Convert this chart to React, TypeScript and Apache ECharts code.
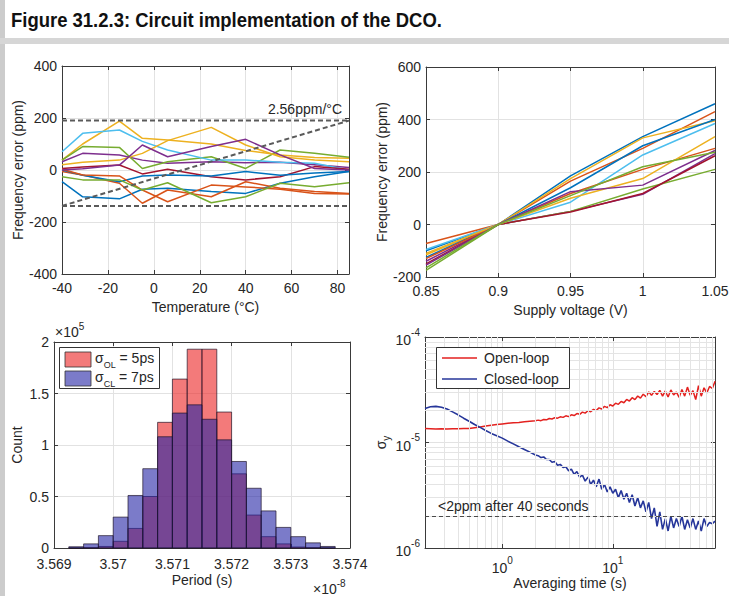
import React, { useEffect, useRef } from 'react';
import * as echarts from 'echarts';

const TITLE = 'Figure 31.2.3: Circuit implementation of the DCO.';

// ---------- Top-left: frequency error vs temperature ----------
const temperatures = [-40, -31, -15, -5, 6, 25, 40, 55, 70, 85];
const tempErrors: number[][] = [
  [-45, -103, -111, -74, -70, -83, -90, -51, -26, -6],
  [-6, -19, -51, -128, -77, -103, -45, -70, -83, -90],
  [38, 100, 188, 122, 115, 100, 75, 58, 48, 45],
  [32, 64, 58, 38, 26, 32, 28, 30, 20, 10],
  [38, 90, 87, 6, 32, 51, 6, 77, 64, 49],
  [70, 141, 154, 110, 77, 38, 38, 30, 26, 0],
  [6, 12, 19, -15, 3, -26, -38, -26, 13, 3],
  [0, -20, -45, -23, -19, -23, -6, -20, -12, -6],
  [3, -19, -23, -77, -122, -58, -65, -74, -90, -92],
  [20, 30, 38, 64, 113, 164, 96, 51, 38, 32],
  [0, 5, 19, 96, 51, 90, 118, 58, 6, 0],
  [-26, -38, -38, -77, -49, -126, -103, -51, -64, -49],
];
const tempBandUpper = 190;
const tempBandLower = -138;
const tempSlopeStart = [-40, -138];
const tempSlopeEnd = [85, 190];
const tempXTicks = { min: -40, max: 85, interval: 20 };

// ---------- Top-right: frequency error vs supply voltage ----------
const voltages = [0.85, 0.9, 0.95, 1.0, 1.05];
const voltErrors: number[][] = [
  [-100, 0, 185, 335, 460],
  [-72, 0, 165, 290, 430],
  [-115, 0, 175, 330, 395],
  [-140, 0, 50, 115, 270],
  [-175, 0, 50, 135, 210],
  [-95, 0, 85, 265, 385],
  [-150, 0, 48, 118, 262],
  [-125, 0, 140, 300, 400],
  [-130, 0, 118, 210, 290],
  [-110, 0, 100, 175, 335],
  [-155, 0, 125, 150, 282],
  [-165, 0, 110, 220, 275],
];

// ---------- Bottom-left: period histogram (x in units of 1e-8 s) ----------
const binEdges = [
  3.56925, 3.5695, 3.56975, 3.57, 3.57025, 3.5705, 3.57075, 3.571, 3.57125, 3.5715,
  3.57175, 3.572, 3.57225, 3.5725, 3.57275, 3.573, 3.57325, 3.5735, 3.57375,
];
const openLoopCounts = [
  0, 300, 1500, 6500, 19000, 50000, 122000, 164000, 193000, 193000,
  132000, 72000, 32000, 11000, 4000, 1000, 300, 0,
];
const closedLoopCounts = [
  1200, 4000, 12000, 30000, 51000, 77000, 108000, 131000, 139000, 125000,
  105000, 84000, 58000, 36000, 20000, 11000, 5000, 1500,
];

// ---------- Bottom-right: Allan deviation (y in units of 1e-6) ----------
const tau = [
  0.2, 0.224, 0.251, 0.282, 0.316, 0.355, 0.398, 0.447, 0.501, 0.562, 0.631, 0.708, 0.794, 0.891,
  1, 1.122, 1.259, 1.413, 1.585, 1.778, 1.995,
  2.113, 2.239, 2.371, 2.512, 2.661, 2.818, 2.985, 3.162, 3.35, 3.548, 3.758, 3.981, 4.217, 4.467,
  4.732, 5.012, 5.309, 5.623, 5.957, 6.31, 6.683, 7.079, 7.499, 7.943, 8.414, 8.913, 9.441,
  10, 10.59, 11.22, 11.89, 12.59, 13.34, 14.13, 14.96, 15.85, 16.79, 17.78, 18.84, 19.95,
  21.13, 22.39, 23.71, 25.12, 26.61, 28.18, 29.85, 31.62, 33.5, 35.48, 37.58, 39.81, 42.17,
  44.67, 47.32, 50.12, 53.09, 56.23, 59.57, 63.1, 66.83, 70.79, 74.99, 79.43, 84.14,
];
const openLoopAdev = [
  13.6, 13.5, 13.4, 13.5, 13.4, 13.5, 13.5, 13.6, 13.6, 13.8, 14.0, 14.3, 14.6, 14.8,
  15.0, 15.2, 15.4, 15.5, 15.7, 15.9, 16.1,
  16.3, 16.1, 16.5, 16.4, 16.9, 16.7, 17.2, 17.0, 17.5, 17.3, 17.9, 17.6, 18.3, 18.0,
  18.8, 18.5, 19.4, 19.0, 20.0, 19.6, 20.6, 20.1, 21.3, 20.8, 22.0, 21.4, 22.8,
  22.2, 23.6, 23.0, 24.5, 23.8, 25.6, 24.7, 26.6, 25.5, 27.6, 26.3, 28.7, 27.2,
  30.2, 28.0, 30.5, 28.5, 31.2, 27.5, 30.8, 27.0, 31.5, 28.3, 30.0, 26.8, 31.8,
  27.5, 33.5, 28.0, 31.0, 25.5, 34.5, 27.5, 33.0, 29.5, 34.0, 32.5, 38.0,
];
const closedLoopAdev = [
  21.0, 21.8, 22.0, 21.6, 20.8, 19.5, 18.3, 17.0, 15.9, 14.8, 13.9, 13.0, 12.2, 11.6,
  11.0, 10.3, 9.7, 9.1, 8.6, 8.1, 7.6,
  7.5, 7.2, 7.3, 6.9, 6.9, 6.5, 6.6, 6.1, 6.2, 5.8, 5.9, 5.4, 5.6, 5.0,
  5.3, 4.7, 4.9, 4.3, 4.7, 4.0, 4.4, 3.8, 4.5, 3.6, 4.0, 3.4, 3.8,
  3.3, 3.6, 3.0, 3.5, 2.9, 3.3, 2.7, 3.2, 2.5, 3.0, 2.4, 2.8, 2.2,
  2.7, 1.9, 2.4, 1.6, 2.2, 1.5, 1.9, 1.45, 2.0, 1.55, 1.9, 1.6, 2.0,
  1.5, 1.85, 1.55, 1.9, 1.5, 1.8, 1.45, 1.9, 1.6, 1.75, 1.7, 1.8,
];
const adevLimit = 2;
const adevMinorX = [0.3, 0.4, 0.5, 0.6, 0.7, 0.8, 0.9, 2, 3, 4, 5, 6, 7, 8, 9, 20, 30, 40, 50, 60, 70, 80];
const adevMinorY = [2, 3, 4, 5, 6, 7, 8, 9, 20, 30, 40, 50, 60, 70, 80, 90];

// ---------- styles ----------
const FONT = "'Liberation Sans', Arial, Helvetica, sans-serif";
const TXT = '#262626';
const AXC = '#3a3a3a';
const GRIDC = '#e2e2e2';
const MATLAB = ['#0072BD', '#D95319', '#EDB120', '#7E2F8E', '#77AC30', '#4DBEEE', '#A2142F'];
const OL_FILL = 'rgba(235,40,40,0.62)';
const CL_FILL = 'rgba(35,35,165,0.6)';

const tickStyle = { show: true, inside: true, length: 4, lineStyle: { color: AXC, width: 1 } };
const lineStyleAx = { show: true, onZero: false, lineStyle: { color: AXC, width: 1 } };
const labelStyle = { color: TXT, fontSize: 14, fontFamily: FONT };
const nameStyle = { color: TXT, fontSize: 14, fontFamily: FONT };

function axisPair(kind: 'x' | 'y', gridIndex: number, base: any, main: any) {
  const mainAxis = {
    gridIndex,
    position: kind === 'x' ? 'bottom' : 'left',
    ...base,
    axisLine: lineStyleAx,
    axisTick: tickStyle,
    splitLine: { show: true, lineStyle: { color: GRIDC, width: 1 } },
    ...main,
  };
  const mirror = {
    gridIndex,
    position: kind === 'x' ? 'top' : 'right',
    ...base,
    axisLine: lineStyleAx,
    axisTick: tickStyle,
    axisLabel: { show: false },
    splitLine: { show: false },
  };
  return [mainAxis, mirror];
}

const isPow10 = (v: number) => Math.abs(Math.log10(v) - Math.round(Math.log10(v))) < 1e-6;
const supRich = {
  b: { fontSize: 14, color: TXT, fontFamily: FONT, lineHeight: 20, verticalAlign: 'bottom' },
  s: { fontSize: 10, color: TXT, fontFamily: FONT, lineHeight: 20, verticalAlign: 'top' },
};

function buildOption(): any {
  const series: any[] = [];

  // TL lines
  tempErrors.forEach((vals, i) => {
    series.push({
      type: 'line', xAxisIndex: 0, yAxisIndex: 0, showSymbol: false, symbol: 'none',
      data: temperatures.map((t, k) => [t, vals[k]]),
      lineStyle: { color: MATLAB[i % 7], width: 1.5 }, itemStyle: { color: MATLAB[i % 7] },
      z: 3,
    });
  });
  const dashStyle = { color: '#5a5a5a', width: 2, type: [5, 3] };
  series.push(
    { type: 'line', xAxisIndex: 0, yAxisIndex: 0, symbol: 'none', z: 4, lineStyle: dashStyle,
      data: [[tempXTicks.min, tempBandUpper], [tempXTicks.max, tempBandUpper]] },
    { type: 'line', xAxisIndex: 0, yAxisIndex: 0, symbol: 'none', z: 4, lineStyle: dashStyle,
      data: [[tempXTicks.min, tempBandLower], [tempXTicks.max, tempBandLower]] },
    { type: 'line', xAxisIndex: 0, yAxisIndex: 0, symbol: 'none', z: 4, lineStyle: dashStyle,
      data: [tempSlopeStart, tempSlopeEnd] },
  );

  // TR lines
  voltErrors.forEach((vals, i) => {
    series.push({
      type: 'line', xAxisIndex: 2, yAxisIndex: 2, symbol: 'none',
      data: voltages.map((v, k) => [v, vals[k]]),
      lineStyle: { color: MATLAB[i % 7], width: 1.5 }, z: 3,
    });
  });

  // BL histogram
  const histSeries = (counts: number[], fill: string) => ({
    type: 'custom', xAxisIndex: 4, yAxisIndex: 4, z: 3,
    data: counts.map((c, i) => [binEdges[i], binEdges[i + 1], c]),
    encode: { x: [0, 1], y: 2 },
    renderItem: (_p: any, api: any) => {
      const a = api.coord([api.value(0), 0]);
      const b = api.coord([api.value(1), api.value(2)]);
      return {
        type: 'rect',
        shape: { x: a[0], y: b[1], width: b[0] - a[0], height: a[1] - b[1] },
        style: { fill, stroke: 'rgba(30,20,40,0.85)', lineWidth: 0.8 },
      };
    },
  });
  series.push(histSeries(openLoopCounts, OL_FILL), histSeries(closedLoopCounts, CL_FILL));

  // BR minor grid + limit line
  series.push({
    type: 'line', xAxisIndex: 6, yAxisIndex: 6, data: [], z: 1, silent: true,
    markLine: {
      silent: true, symbol: ['none', 'none'], label: { show: false }, animation: false,
      lineStyle: { color: '#e4e4e4', width: 1, type: 'solid' },
      data: [
        ...adevMinorX.map((x) => ({ xAxis: x })),
        ...adevMinorY.map((y) => ({ yAxis: y })),
      ],
    },
  });
  series.push({
    type: 'line', xAxisIndex: 6, yAxisIndex: 6, symbol: 'none', z: 4,
    data: tau.map((t, k) => [t, openLoopAdev[k]]),
    lineStyle: { color: '#e3211f', width: 1.5 },
  });
  series.push({
    type: 'line', xAxisIndex: 6, yAxisIndex: 6, symbol: 'none', z: 4,
    data: tau.map((t, k) => [t, closedLoopAdev[k]]),
    lineStyle: { color: '#26369a', width: 1.6 },
    markLine: {
      silent: true, symbol: ['none', 'none'], label: { show: false }, animation: false,
      lineStyle: { color: '#4a4a4a', width: 1.2, type: [4, 3] },
      data: [{ yAxis: adevLimit }],
    },
  });

  const xAxis = [
    ...axisPair('x', 0, { type: 'value', min: tempXTicks.min, max: tempXTicks.max, interval: tempXTicks.interval }, {
      axisLabel: { ...labelStyle, margin: 7, showMaxLabel: false },
      name: 'Temperature (°C)', nameLocation: 'middle', nameGap: 26, nameTextStyle: nameStyle,
    }),
    ...axisPair('x', 1, { type: 'value', min: 0.85, max: 1.05, interval: 0.05 }, {
      axisLabel: { ...labelStyle, margin: 7 },
      name: 'Supply voltage (V)', nameLocation: 'middle', nameGap: 26, nameTextStyle: nameStyle,
    }),
    ...axisPair('x', 2, { type: 'value', min: 3.569, max: 3.574, interval: 0.001 }, {
      axisLabel: { ...labelStyle, margin: 9, formatter: (v: number) => String(+v.toFixed(3)) },
      name: 'Period (s)', nameLocation: 'middle', nameGap: 25, nameTextStyle: nameStyle,
    }),
    ...axisPair('x', 3, { type: 'log', min: 0.2, max: 84, logBase: 10 }, {
      axisLabel: {
        margin: 7,
        formatter: (v: number) => (isPow10(v) ? `{b|10}{s|${Math.round(Math.log10(v))}}` : ''),
        rich: supRich,
      },
      name: 'Averaging time (s)', nameLocation: 'middle', nameGap: 28, nameTextStyle: nameStyle,
    }),
  ];
  const yAxis = [
    ...axisPair('y', 0, { type: 'value', min: -400, max: 400, interval: 200 }, {
      axisLabel: { ...labelStyle, margin: 5 },
      name: 'Frequency error (ppm)', nameLocation: 'middle', nameGap: 37, nameTextStyle: nameStyle,
    }),
    ...axisPair('y', 1, { type: 'value', min: -200, max: 600, interval: 200 }, {
      axisLabel: { ...labelStyle, margin: 5 },
      name: 'Frequency error (ppm)', nameLocation: 'middle', nameGap: 37, nameTextStyle: nameStyle,
    }),
    ...axisPair('y', 2, { type: 'value', min: 0, max: 200000, interval: 50000 }, {
      axisLabel: { ...labelStyle, margin: 5, formatter: (v: number) => String(v / 100000) },
      name: 'Count', nameLocation: 'middle', nameGap: 30, nameTextStyle: nameStyle,
    }),
    ...axisPair('y', 3, { type: 'log', min: 1, max: 100, logBase: 10 }, {
      axisLabel: {
        margin: 5,
        formatter: (v: number) => (isPow10(v) ? `{b|10}{s|${Math.round(Math.log10(v)) - 6}}` : ''),
        rich: supRich,
      },
      name: '{a|σ}{s|y}', nameLocation: 'middle', nameGap: 30,
      nameTextStyle: {
        ...nameStyle,
        rich: {
          a: { fontSize: 14, color: TXT, fontFamily: FONT, lineHeight: 18, verticalAlign: 'top' },
          s: { fontSize: 10, color: TXT, fontFamily: FONT, lineHeight: 18, verticalAlign: 'bottom' },
        },
      },
    }),
  ];

  const gridBase = { show: false, containLabel: false, outerBoundsMode: 'none' };
  const grid = [
    { ...gridBase, left: 62, top: 66, width: 287, height: 208 },
    { ...gridBase, left: 426, top: 67, width: 289, height: 210 },
    { ...gridBase, left: 54, top: 342, width: 296, height: 206 },
    { ...gridBase, left: 425, top: 337, width: 290, height: 211 },
  ];

  const legText = (x: number, y: number, text: string, rich?: any) => ({
    type: 'text', x, y, z: 100,
    style: { text, fontSize: 14, fontFamily: FONT, fill: TXT, verticalAlign: 'middle', align: 'left', rich },
  });
  const subRich = {
    a: { fontSize: 14, fontFamily: FONT, fill: TXT, color: TXT, lineHeight: 18, verticalAlign: 'top' },
    sub: { fontSize: 9, fontFamily: FONT, fill: TXT, color: TXT, lineHeight: 18, verticalAlign: 'bottom' },
  };
  const multRich = {
    a: { fontSize: 14, fontFamily: FONT, fill: TXT, lineHeight: 18, verticalAlign: 'bottom' },
    s: { fontSize: 10, fontFamily: FONT, fill: TXT, lineHeight: 18, verticalAlign: 'top' },
  };

  const graphic = [
    { type: 'rect', shape: { x: 0, y: 0, width: 5, height: 596 }, style: { fill: '#cccccc' }, z: 100 },
    { type: 'rect', shape: { x: 0, y: 38, width: 729, height: 6 }, style: { fill: '#d6d6d6' }, z: 100 },
    {
      type: 'text', x: 11, y: 20, z: 100, scaleX: 0.88,
      style: {
        text: TITLE, fill: '#111', fontSize: 21, fontWeight: 'bold',
        fontFamily: "'Liberation Sans', Arial, sans-serif",
        verticalAlign: 'middle', align: 'left',
      },
    },
    {
      type: 'text', x: 342, y: 109, z: 100,
      style: { text: '2.56ppm/°C', fontSize: 14, fontFamily: FONT, fill: TXT, align: 'right', verticalAlign: 'middle' },
    },
    {
      type: 'text', x: 438, y: 506, z: 100,
      style: { text: '<2ppm after 40 seconds', fontSize: 14, fontFamily: FONT, fill: TXT, align: 'left', verticalAlign: 'middle' },
    },
    { type: 'text', x: 55, y: 330, z: 100, style: { text: '{a|×10}{s|5}', verticalAlign: 'middle', rich: multRich } },
    { type: 'text', x: 313, y: 587, z: 100, style: { text: '{a|×10}{s|-8}', verticalAlign: 'middle', rich: multRich } },
    // BL legend
    { type: 'rect', z: 99, shape: { x: 59.5, y: 347.5, width: 100, height: 41 }, style: { fill: '#fff', stroke: '#333', lineWidth: 1 } },
    { type: 'rect', z: 100, shape: { x: 65, y: 352, width: 26, height: 15 }, style: { fill: OL_FILL, stroke: '#333', lineWidth: 0.8 } },
    { type: 'rect', z: 100, shape: { x: 65, y: 371, width: 26, height: 15 }, style: { fill: CL_FILL, stroke: '#333', lineWidth: 0.8 } },
    legText(95, 360, '{a|σ}{sub|OL}{a| = 5ps}', subRich),
    legText(95, 379, '{a|σ}{sub|CL}{a| = 7ps}', subRich),
    // BR legend
    { type: 'rect', z: 99, shape: { x: 436.5, y: 347.5, width: 133, height: 41 }, style: { fill: '#fff', stroke: '#333', lineWidth: 1 } },
    { type: 'line', z: 100, shape: { x1: 442, y1: 358, x2: 477, y2: 358 }, style: { stroke: '#e3211f', lineWidth: 1.6 } },
    { type: 'line', z: 100, shape: { x1: 442, y1: 379, x2: 477, y2: 379 }, style: { stroke: '#26369a', lineWidth: 1.6 } },
    legText(484, 358, 'Open-loop'),
    legText(484, 379, 'Closed-loop'),
  ];

  return {
    animation: false,
    backgroundColor: '#ffffff',
    textStyle: { fontFamily: FONT },
    grid,
    xAxis,
    yAxis,
    series,
    graphic,
  };
}

export default function App() {
  const ref = useRef<HTMLDivElement>(null);
  useEffect(() => {
    document.body.style.margin = '0';
    const chart = echarts.init(ref.current!, null, { renderer: 'svg' });
    chart.setOption(buildOption());
    return () => chart.dispose();
  }, []);
  return <div ref={ref} style={{ width: 729, height: 596, background: '#fff' }} />;
}
